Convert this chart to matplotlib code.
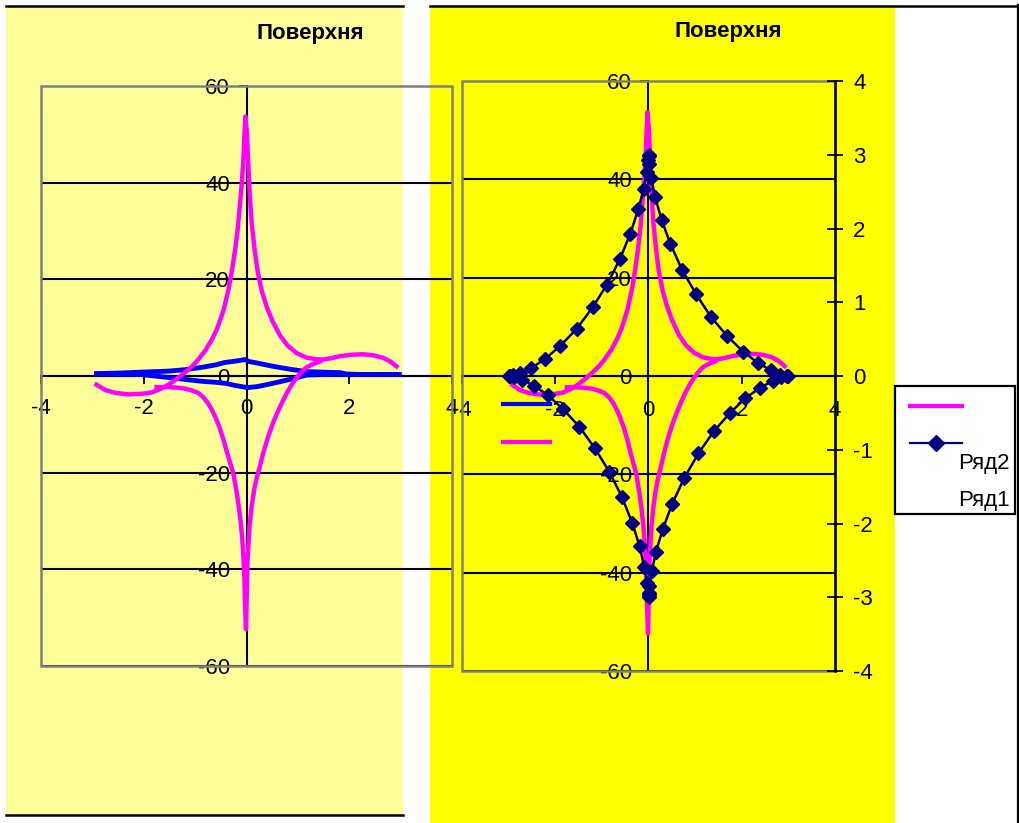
import matplotlib
matplotlib.use("Agg")
import matplotlib.pyplot as plt
from matplotlib.patches import Rectangle
from matplotlib.lines import Line2D

plt.rcParams['font.family'] = ['Liberation Sans', 'DejaVu Sans']
plt.rcParams['axes.unicode_minus'] = False

W, H = 1020, 823

# magenta series, upper branch (passes through the top spike)
mag_up_x = [-2.92, -2.75, -2.55, -2.3, -2.05, -1.84, -1.68, -1.52, -1.36, -1.2,
            -1.06, -0.94, -0.8, -0.67, -0.58, -0.45, -0.35, -0.28, -0.22, -0.17,
            -0.13, -0.09, -0.06, -0.04, -0.02, 0.01, 0.03, 0.06, 0.1, 0.16,
            0.22, 0.3, 0.39, 0.5, 0.65, 0.8, 0.98, 1.17, 1.33, 1.49,
            1.65, 1.82, 2.04, 2.26, 2.46, 2.65, 2.8, 2.92]
mag_up_y = [-1.8, -2.9, -3.5, -3.8, -3.7, -3.4, -2.7, -1.8, -0.6, 0.7,
            2.0, 3.4, 5.3, 7.6, 9.6, 13.5, 17.9, 22.0, 26.2, 30.5,
            35.2, 40.0, 45.0, 50.0, 53.7, 50.0, 45.0, 38.0, 31.7, 26.0,
            21.4, 17.5, 14.4, 11.5, 8.4, 6.3, 4.7, 3.8, 3.5, 3.4,
            3.7, 4.1, 4.4, 4.5, 4.3, 3.8, 3.0, 2.0]

# magenta series, lower branch (bottom spike)
mag_lo_x = [-1.75, -1.55, -1.35, -1.2, -1.06, -0.94, -0.84, -0.75, -0.68, -0.61,
            -0.53, -0.45, -0.38, -0.32, -0.26, -0.2, -0.15, -0.11, -0.08, -0.06,
            -0.04, -0.03, -0.01, 0.02, 0.06, 0.1, 0.15, 0.2, 0.26, 0.33,
            0.42, 0.52, 0.6, 0.7, 0.79, 0.88, 0.98, 1.08, 1.17, 1.3, 1.43]
mag_lo_y = [-2.3, -2.3, -2.4, -2.6, -3.0, -3.5, -4.4, -5.6, -6.9, -8.4,
            -10.5, -13.1, -15.8, -17.9, -20.0, -23.5, -27.0, -30.5, -34.0, -37.3,
            -42.0, -47.0, -52.4, -38.0, -31.0, -27.0, -23.5, -21.0, -18.7, -15.8,
            -12.6, -9.6, -7.6, -5.3, -3.4, -1.8, -0.3, 0.9, 1.8, 2.5, 3.0]

# blue series (left chart only)
blue_up_x = [-2.92, -2.5, -2.05, -1.53, -1.2, -0.87, -0.6, -0.42, -0.2, -0.03,
             0.05, 0.2, 0.52, 0.85, 1.17, 1.5, 1.82, 1.95, 2.3, 2.97]
blue_up_y = [0.5, 0.6, 0.8, 1.0, 1.3, 1.8, 2.3, 2.8, 3.1, 3.4,
             3.0, 2.7, 2.0, 1.4, 0.9, 0.8, 0.7, 0.4, 0.3, 0.3]
blue_lo_x = [-2.92, -2.5, -2.05, -1.53, -1.2, -0.87, -0.6, -0.42, -0.2, 0.02,
             0.2, 0.39, 0.6, 0.85, 1.17, 1.5, 2.0, 2.97]
blue_lo_y = [0.4, 0.4, 0.3, -0.3, -0.7, -1.1, -1.3, -1.5, -2.0, -2.4,
             -2.2, -1.8, -1.3, -0.7, 0.2, 0.3, 0.3, 0.3]

# Ряд2 on the secondary axis
r2_x = [3.00, 2.96, 2.82, 2.62, 2.34, 2.03, 1.69, 1.34, 1.02, 0.72,
        0.47, 0.28, 0.14, 0.06, 0.02, 0.00, 0.00, -0.01, -0.04, -0.10,
        -0.22, -0.39, -0.61, -0.89, -1.20, -1.54, -1.89, -2.22, -2.51, -2.75,
        -2.91, -2.99, -2.98, -2.89, -2.71, -2.46, -2.16, -1.83, -1.48, -1.15,
        -0.84, -0.57, -0.35, -0.19, -0.09, -0.03, 0.00, 0.00, 0.00, 0.02,
        0.07, 0.16, 0.31, 0.51, 0.77, 1.07, 1.40, 1.75, 2.08, 2.39,
        2.66, 2.85, 2.97]
r2_y = [0.00, 0.00, 0.02, 0.08, 0.18, 0.33, 0.54, 0.80, 1.11, 1.44,
        1.79, 2.12, 2.43, 2.68, 2.87, 2.98, 3.00, 2.93, 2.77, 2.54,
        2.26, 1.93, 1.59, 1.24, 0.93, 0.64, 0.41, 0.23, 0.11, 0.04,
        0.01, 0.00, 0.00, -0.01, -0.05, -0.13, -0.26, -0.45, -0.69, -0.98,
        -1.30, -1.64, -1.99, -2.31, -2.59, -2.80, -2.94, -3.00, -2.97, -2.85,
        -2.65, -2.38, -2.07, -1.73, -1.38, -1.05, -0.75, -0.50, -0.30, -0.16,
        -0.07, -0.02, 0.00]

x_ticks = [-4, -2, 0, 2, 4]
y_ticks = [-60, -40, -20, 0, 20, 40, 60]
y2_ticks = [-4, -3, -2, -1, 0, 1, 2, 3, 4]
title = 'Поверхня'
series_names = ['Ряд2', 'Ряд1']

MAGENTA = '#FF00FF'
BLUE = '#0000FF'
NAVY = '#000080'
FS = 16


def rect(x0, y0, x1, y1):
    return [x0 / W, 1 - y1 / H, (x1 - x0) / W, (y1 - y0) / H]


def fig_line(fig, x0, y0, x1, y1, **kw):
    fig.add_artist(Line2D([x0 / W, x1 / W], [1 - y0 / H, 1 - y1 / H],
                          transform=fig.transFigure, **kw))


def fig_box(fig, x0, y0, x1, y1, **kw):
    fig.add_artist(Rectangle((x0 / W, 1 - y1 / H), (x1 - x0) / W, (y1 - y0) / H,
                             transform=fig.transFigure, **kw))


def setup_axes(ax, xpad):
    ax.set_facecolor('none')
    ax.set_xlim(-4, 4)
    ax.set_ylim(-60, 60)
    ax.set_xticks(x_ticks)
    ax.set_yticks(y_ticks)
    ax.yaxis.grid(True, color='black', lw=1.5, zorder=0.5)
    ax.xaxis.grid(False)
    for s in ['top', 'right']:
        ax.spines[s].set_visible(False)
    for s in ['left', 'bottom']:
        ax.spines[s].set_position(('data', 0))
        ax.spines[s].set_color('black')
        ax.spines[s].set_linewidth(1.5)
    ax.tick_params(axis='x', direction='out', length=6, width=1.3,
                   pad=xpad, labelsize=FS)
    ax.tick_params(axis='y', direction='out', length=6, width=1.3,
                   pad=6, labelsize=FS)
    # grey plot-area frame
    ax.add_patch(Rectangle((0, 0), 1, 1, transform=ax.transAxes, fill=False,
                           ec='#808080', lw=1.8, zorder=3, clip_on=False))


fig = plt.figure(figsize=(W / 100, H / 100), dpi=100)
fig.patch.set_facecolor('white')

# sheet backgrounds and borders
fig_box(fig, 6, 6, 403, 815, fc='#FFFF99', ec='none', zorder=-5)
fig_box(fig, 430, 7, 895, 823, fc='#FFFF00', ec='none', zorder=-5)
fig_line(fig, 6, 5.5, 403, 5.5, color='black', lw=1.8, zorder=-4)
fig_line(fig, 430, 5.5, 1018, 5.5, color='black', lw=1.8, zorder=-4)
fig_line(fig, 6, 815, 403, 815, color='black', lw=1.8, zorder=-4)
fig_line(fig, 1018, 5, 1018, 823, color='black', lw=1.6, zorder=-4)

# left chart
ax1 = fig.add_axes(rect(41, 86, 452, 666))
setup_axes(ax1, 10)
ax1.plot(blue_up_x, blue_up_y, color=BLUE, lw=3.5, zorder=4)
ax1.plot(blue_lo_x, blue_lo_y, color=BLUE, lw=3.5, zorder=4)
ax1.plot(mag_up_x, mag_up_y, color=MAGENTA, lw=3.2, zorder=4)
ax1.plot(mag_lo_x, mag_lo_y, color=MAGENTA, lw=3.2, zorder=4)
fig.text(310 / W, 1 - 33 / H, title, ha='center', va='center',
         fontsize=16, fontweight='bold')

# right chart with secondary axis
ax2 = fig.add_axes(rect(462, 81, 835, 671))
setup_axes(ax2, 11)
ax2.plot(mag_up_x, mag_up_y, color=MAGENTA, lw=3.2, zorder=4)
ax2.plot(mag_lo_x, mag_lo_y, color=MAGENTA, lw=3.2, zorder=4)

ax3 = ax2.twinx()
ax3.set_ylim(-4, 4)
ax3.set_yticks(y2_ticks)
for s in ['top', 'left', 'bottom']:
    ax3.spines[s].set_visible(False)
ax3.spines['right'].set_color('black')
ax3.spines['right'].set_linewidth(1.8)
ax3.tick_params(axis='y', direction='inout', length=12, width=1.3,
                pad=7, labelsize=FS)
ax3.plot(r2_x, r2_y, color=NAVY, lw=1.8, marker='D', ms=7, zorder=4)
fig.text(728 / W, 1 - 32 / H, title, ha='center', va='center',
         fontsize=16, fontweight='bold')

# key lines of the left chart, without text
fig_line(fig, 503, 404, 550, 404, color=BLUE, lw=3, zorder=6)
fig_line(fig, 503, 442, 550, 442, color=MAGENTA, lw=3, zorder=6)

# legend of the right chart
fig_box(fig, 895, 386, 1015, 514, fc='white', ec='black', lw=1.6, zorder=5)
fig_line(fig, 910, 406, 962, 406, color=MAGENTA, lw=3, zorder=6)
fig_line(fig, 910, 443, 962, 443, color=NAVY, lw=1.6, zorder=6)
fig.add_artist(Line2D([936 / W], [1 - 443 / H], transform=fig.transFigure,
                      marker='D', ms=8, color=NAVY, lw=0, zorder=7))
fig.text(958 / W, 1 - 463 / H, series_names[0], ha='left', va='center',
         fontsize=FS, zorder=7)
fig.text(958 / W, 1 - 500 / H, series_names[1], ha='left', va='center',
         fontsize=FS, zorder=7)

plt.savefig('out.png', dpi=100)
